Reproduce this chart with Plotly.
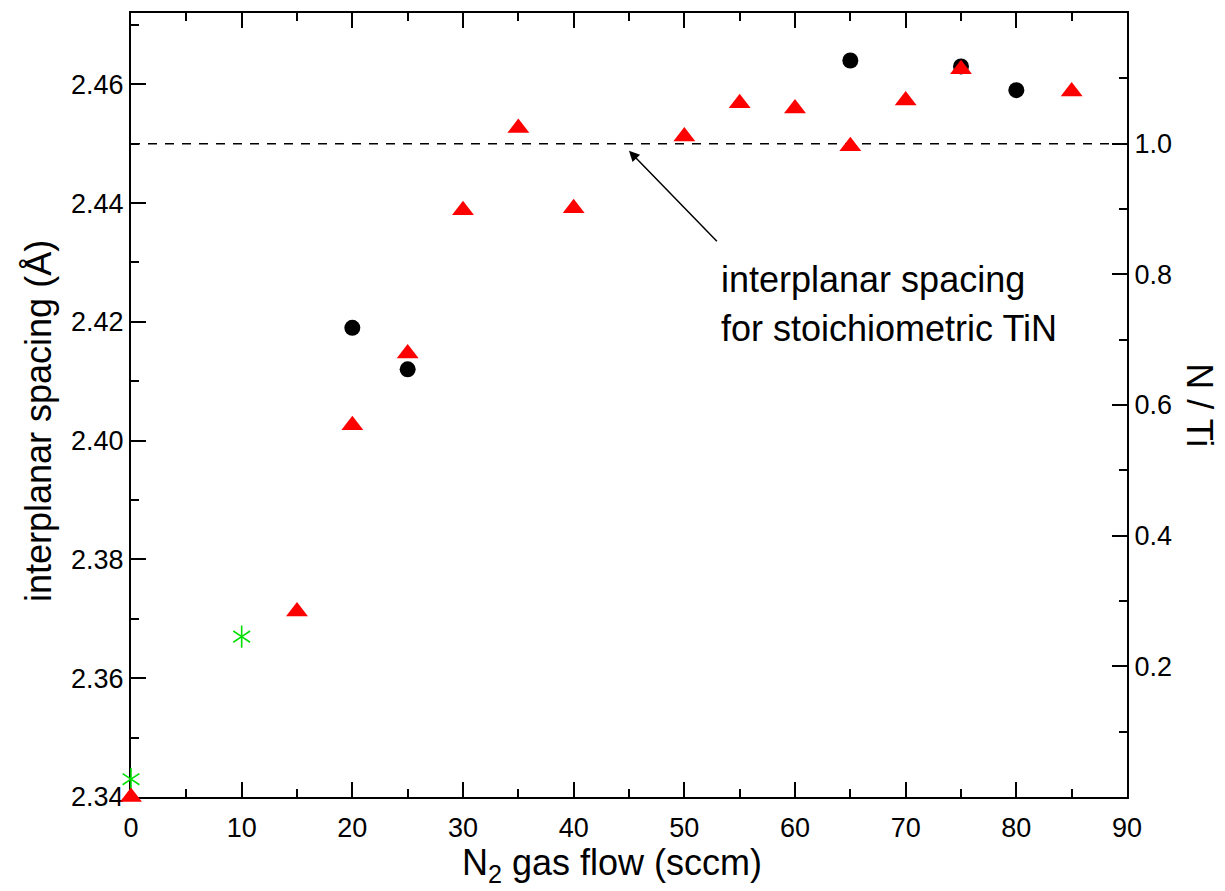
import plotly.graph_objects as go

# ---- data ----
flow_circ = [20, 25, 65, 75, 80]
spacing_circ = [2.419, 2.412, 2.464, 2.463, 2.459]

flow_ti = [0, 10]
spacing_ti = [2.343, 2.367]

flow_tri = [0, 15, 20, 25, 30, 35, 40, 50, 55, 60, 65, 70, 75, 85]
n_ti = [0.0, 0.284, 0.569, 0.679, 0.898, 1.024, 0.901, 1.011, 1.062, 1.054, 0.996, 1.066, 1.114, 1.080]

stoich_spacing = 2.45
x_ticks = [0, 10, 20, 30, 40, 50, 60, 70, 80, 90]
left_ticks = [2.34, 2.36, 2.38, 2.40, 2.42, 2.44, 2.46]
right_ticks = [0.2, 0.4, 0.6, 0.8, 1.0]

FONT = "Liberation Sans, Arial, sans-serif"
TICKF = 27
TITLEF = 36

fig = go.Figure()

# dashed reference line for stoichiometric TiN
fig.add_trace(go.Scatter(
    x=[x_ticks[0], x_ticks[-1]], y=[stoich_spacing, stoich_spacing],
    mode="lines", line=dict(color="black", width=1.5, dash="9px,8px"),
    showlegend=False, hoverinfo="skip", yaxis="y"))

fig.add_trace(go.Scatter(
    x=flow_circ, y=spacing_circ, mode="markers",
    marker=dict(symbol="circle", size=16, color="black"),
    showlegend=False, cliponaxis=False, yaxis="y"))

for sym in ["y-up-open", "y-down-open"]:
    fig.add_trace(go.Scatter(
        x=flow_ti, y=spacing_ti, mode="markers",
        marker=dict(symbol=sym, size=14, color="#00e000",
                    line=dict(color="#00e000", width=1.6)),
        showlegend=False, cliponaxis=False, yaxis="y"))

fig.add_trace(go.Scatter(
    x=flow_tri, y=n_ti, mode="markers",
    marker=dict(symbol="triangle-up", size=19, color="#ff0000", line=dict(width=0)),
    showlegend=False, cliponaxis=False, yaxis="y2"))

axis_common = dict(
    showline=True, linecolor="black", linewidth=2,
    ticks="inside", tickcolor="black", tickwidth=2, ticklen=15,
    showgrid=False, zeroline=False, layer="below traces",
    tickfont=dict(family=FONT, size=TICKF, color="black"),
)

fig.update_layout(
    width=1225, height=891,
    margin=dict(l=131, r=98, t=11, b=94),
    paper_bgcolor="white", plot_bgcolor="white",
    font=dict(family=FONT, color="black"),
    xaxis=dict(range=[0, 90], tickvals=x_ticks, mirror="ticks", ticklabelstandoff=6,
               minor=dict(dtick=5, tick0=0, ticks="inside", ticklen=8,
                          tickwidth=2, tickcolor="black"),
               **axis_common),
    yaxis=dict(range=[2.34, 2.472], tickvals=left_ticks, tickformat=".2f",
               minor=dict(dtick=0.01, tick0=2.34, ticks="inside", ticklen=8,
                          tickwidth=2, tickcolor="black"),
               **axis_common),
    yaxis2=dict(range=[0, 1.2], tickvals=right_ticks, tickformat=".1f",
                overlaying="y", side="right",
                minor=dict(tickvals=[0.1, 0.3, 0.5, 0.7, 0.9, 1.1], ticks="inside",
                           ticklen=8, tickwidth=2, tickcolor="black"),
                **axis_common),
)

# axis titles as annotations
fig.add_annotation(text="N<sub>2</sub> gas flow (sccm)", xref="paper", yref="paper",
                   x=0.483, y=-0.087, showarrow=False, xanchor="center", yanchor="middle",
                   font=dict(family=FONT, size=TITLEF, color="black"))
fig.add_annotation(text="interplanar spacing (Å)", xref="paper", yref="paper",
                   x=-0.093, y=0.48, showarrow=False, textangle=-90,
                   xanchor="center", yanchor="middle",
                   font=dict(family=FONT, size=TITLEF, color="black"))
fig.add_annotation(text="N / Ti", xref="paper", yref="paper",
                   x=1.073, y=0.5, showarrow=False, textangle=90,
                   xanchor="center", yanchor="middle",
                   font=dict(family=FONT, size=TITLEF, color="black"))

# arrow + label
fig.add_annotation(x=45.0, y=2.4488, ax=53.07, ay=2.4333, xref="x", yref="y",
                   axref="x", ayref="y", text="", showarrow=True,
                   arrowhead=2, arrowsize=1.4, arrowwidth=1.5, arrowcolor="black")
fig.add_annotation(text="interplanar spacing", xref="x", yref="y",
                   x=53.1, y=2.4272, showarrow=False, xanchor="left", yanchor="middle",
                   font=dict(family=FONT, size=TITLEF, color="black"))
fig.add_annotation(text="for stoichiometric TiN", xref="x", yref="y",
                   x=53.1, y=2.4189, showarrow=False, xanchor="left", yanchor="middle",
                   font=dict(family=FONT, size=TITLEF, color="black"))

fig.write_html("out.html")
